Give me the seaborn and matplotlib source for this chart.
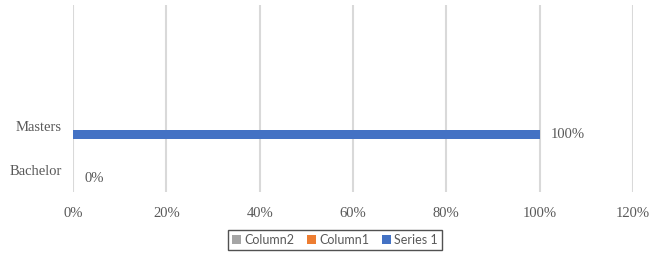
import pandas as pd
import matplotlib
matplotlib.use("Agg")
import matplotlib.pyplot as plt
import seaborn as sns

categories = ["Masters", "Bachelor"]
series_names = ["Column2", "Column1", "Series 1"]
series1 = [1.0, 0.0]
column1 = [0.0, 0.0]
column2 = [0.0, 0.0]
xticks = [0, 0.2, 0.4, 0.6, 0.8, 1.0, 1.2]
xtick_labels = ["0%", "20%", "40%", "60%", "80%", "100%", "120%"]

df = pd.DataFrame({
    "category": categories * 3,
    "series": ["Column2"] * 2 + ["Column1"] * 2 + ["Series 1"] * 2,
    "value": column2 + column1 + series1,
})

palette = {"Column2": "#A5A5A5", "Column1": "#ED7D31", "Series 1": "#4472C4"}

sns.set_style("white")
plt.rcParams["font.family"] = ["Liberation Serif", "DejaVu Serif"]

fig = plt.figure(figsize=(6.51, 2.54), dpi=100)
ax = fig.add_axes([73 / 651, 1 - 192 / 254, (633 - 73) / 651, (192 - 5) / 254])

sns.barplot(data=df, x="value", y="category", hue="series", order=categories,
            hue_order=series_names, palette=palette, orient="h", width=0.6,
            linewidth=0, saturation=1, ax=ax)

ax.set_xlim(0, 1.2)
ax.set_ylim(1.5, -2.75)
ax.set_xticks(xticks)
ax.set_xticklabels(xtick_labels)
ax.grid(axis="x", color="#d9d9d9", linewidth=1.5)
ax.grid(axis="y", visible=False)
for s in ax.spines.values():
    s.set_visible(False)
ax.tick_params(axis="y", length=0, labelsize=10.5, colors="#595959", pad=8)
ax.tick_params(axis="x", length=0, labelsize=10.5, colors="#595959", pad=11)
ax.set_xlabel("")
ax.set_ylabel("")

# data labels for Series 1 only
s1 = ax.containers[2]
ax.bar_label(s1, labels=[f"{v:.0%}" for v in series1], padding=8,
             fontsize=10.5, color="#595959")

leg = ax.legend(loc="center", bbox_to_anchor=(335 / 651, 1 - 240 / 254),
                bbox_transform=fig.transFigure, ncol=3, frameon=True,
                fancybox=False, edgecolor="#262626", handlelength=0.7,
                handleheight=0.7, handletextpad=0.3, columnspacing=1.0,
                borderpad=0.3, prop={"family": "Lato", "size": 9})
leg.get_frame().set_linewidth(1.0)
for t in leg.get_texts():
    t.set_color("#595959")

fig.savefig("out.png", dpi=100)
